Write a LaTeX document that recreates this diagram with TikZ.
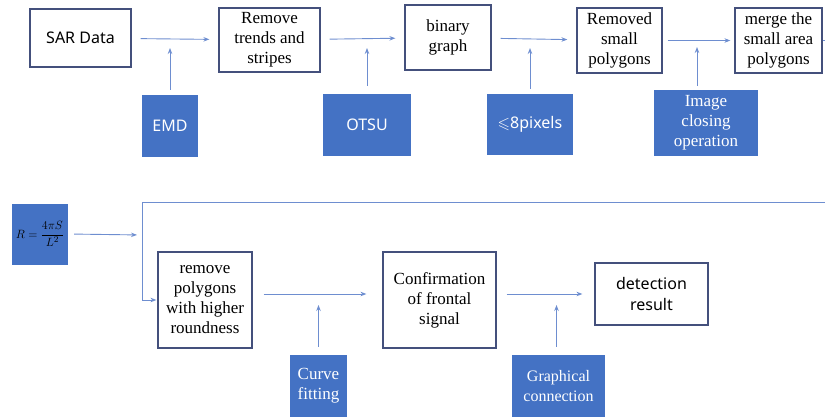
\documentclass[tikz,border=0pt]{standalone}
\usepackage{amsmath,amssymb}
\usepackage{fontspec}
\setmainfont{Liberation Serif}
\newfontfamily\docserif{Liberation Serif}
\newfontfamily\uisans{Noto Sans}
\usepackage{tikz}
\usetikzlibrary{arrows.meta,positioning,calc}
\definecolor{boxblue}{HTML}{4472C4}
\definecolor{edgeblue}{HTML}{44507C}
\definecolor{linkblue}{HTML}{6E8ED0}

\begin{document}
\begin{tikzpicture}[x=1pt, y=-1pt,
procbox/.style={draw=edgeblue, line width=1.2pt, fill=white, align=center, inner sep=0pt, font=\docserif\fontsize{17}{20}\selectfont},
sansbox/.style={procbox, font=\uisans\fontsize{16}{21}\selectfont},
toolbox/.style={fill=boxblue, text=white, align=center, inner sep=0pt, font=\docserif\fontsize{17}{20}\selectfont},
sanstool/.style={toolbox, font=\uisans\fontsize{16}{20}\selectfont},
arrow/.style={-{Stealth[length=6pt,width=4.5pt]}, draw=linkblue, line width=0.9pt, shorten <=9pt, shorten >=9pt},
link/.style={draw=linkblue, line width=0.9pt}
]
\useasboundingbox (0,0) rectangle (825,417);

% first row
\node[sansbox, minimum width=101, minimum height=58] (sar) at (80.5,38) {SAR Data};
\node[procbox, minimum width=101, minimum height=64] (trend) at (269.5,40) {Remove\\trends and\\stripes};
\node[procbox, minimum width=86, minimum height=65] (binary) at (448,37.5) {binary\\graph};
\node[procbox, minimum width=85, minimum height=65] (small) at (619.5,40.5) {Removed\\small\\polygons};
\node[procbox, minimum width=87, minimum height=65] (merge) at (778.5,40.5) {merge the\\small area\\polygons};

\node[sanstool, minimum width=56, minimum height=62] (emd) at (170,126) {EMD};
\node[sanstool, minimum width=88, minimum height=62] (otsu) at (367,125) {OTSU};
\node[sanstool, minimum width=86, minimum height=61] (pix) at (530,124.5) {$\leqslant$8pixels};
\node[toolbox, minimum width=104, minimum height=66] (closing) at (706,123) {Image\\closing\\operation};

\draw[arrow] (sar) -- (trend);
\draw[arrow] (trend) -- (binary);
\draw[arrow] (binary) -- (small);
\draw[arrow, shorten <=5pt, shorten >=4pt] (small) -- (merge);
\draw[arrow, shorten <=5pt, shorten >=10pt] (emd.north) -- (emd.north |- sar.east);
\draw[arrow, shorten <=8pt, shorten >=10pt] (otsu.north) -- (otsu.north |- sar.east);
\draw[arrow, shorten <=5pt, shorten >=10pt] (pix.north) -- (pix.north |- sar.east);
\draw[arrow, shorten <=4pt, shorten >=9pt] ([xshift=-9pt]closing.north) -- ([xshift=-9pt]closing.north |- sar.east);

% wrap to second row
\coordinate (wrapout) at (825,40.5);
\coordinate (wrapin) at (825,202);
\coordinate (corner) at (142,202);
\coordinate (joint) at (142,235);
\draw[link] (merge.east) -- (wrapout);

% second row
\node[toolbox, text=black, minimum width=56, minimum height=61, font=\fontsize{13}{15}\selectfont] (formula) at (40,234) {$R=\dfrac{4\pi S}{L^2}$};
\node[procbox, minimum width=94, minimum height=96] (round) at (205,300) {remove\\polygons\\with higher\\roundness};
\node[procbox, minimum width=113, minimum height=96] (confirm) at (439.5,300) {Confirmation\\of frontal\\signal};
\node[sansbox, minimum width=113, minimum height=62] (detect) at (651.5,294) {detection\\result};

\node[toolbox, minimum width=57, minimum height=62] (curve) at (318.5,386) {Curve\\fitting};
\node[toolbox, minimum width=93, minimum height=62, font=\docserif\fontsize{16}{20}\selectfont] (graph) at (558.5,386) {Graphical\\connection};

\draw[arrow, shorten <=6pt, shorten >=5pt] (formula.east) -- (joint);
\draw[arrow, shorten <=0pt, shorten >=1pt] (wrapin) -- (corner) |- (round.west);
\draw[arrow, shorten <=11pt, shorten >=16pt] ([yshift=6pt]round.east) -- ([yshift=6pt]confirm.west);
\draw[arrow, shorten <=10pt, shorten >=12pt] ([yshift=6pt]confirm.east) -- (detect.west);
\draw[arrow, shorten <=8pt, shorten >=11pt] (curve.north) -- (curve.north |- detect.west);
\draw[arrow, shorten <=8pt, shorten >=11pt] ([xshift=-2pt]graph.north) -- ([xshift=-2pt]graph.north |- detect.west);
\end{tikzpicture}
\end{document}
